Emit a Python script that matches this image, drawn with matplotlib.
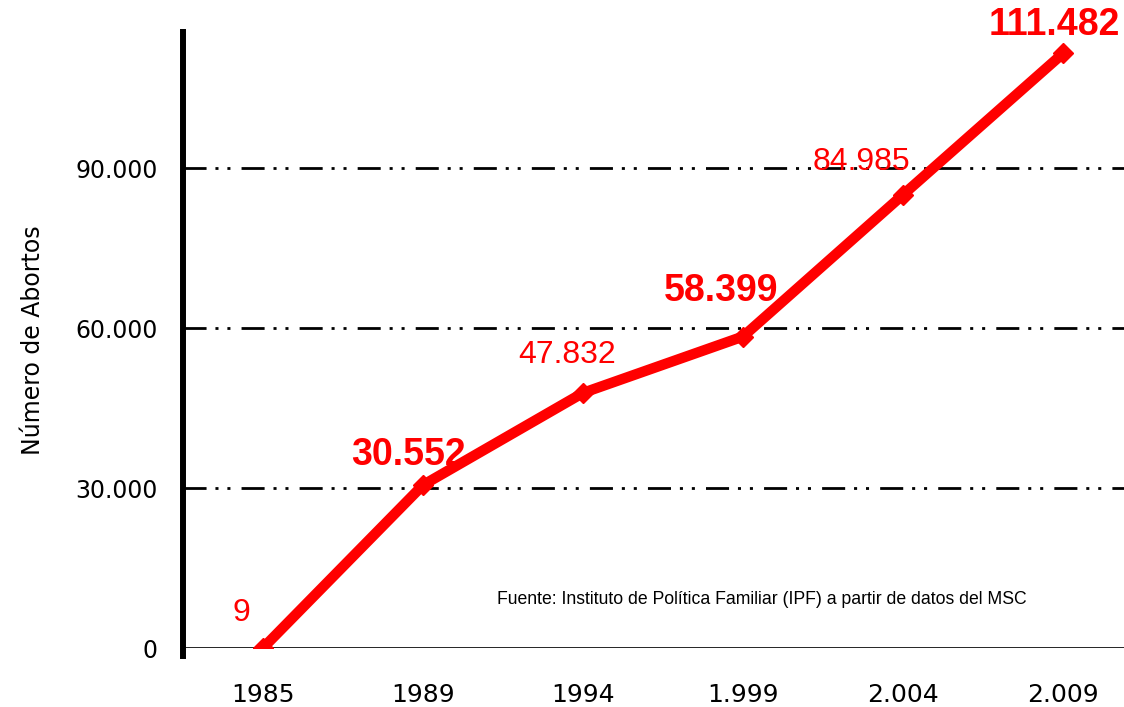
import matplotlib
matplotlib.use("Agg")
import matplotlib.pyplot as plt

# datos
anios = ["1985", "1989", "1994", "1.999", "2.004", "2.009"]
abortos = [9, 30552, 47832, 58399, 84985, 111482]
etiquetas = ["9", "30.552", "47.832", "58.399", "84.985", "111.482"]
negrita = [False, True, False, True, False, True]
desplaz = [(-22, 35), (-15, 30), (-16, 38), (-22, 46), (-42, 33), (-9, 28)]
yticks = [0, 30000, 60000, 90000]
ytick_labels = ["0", "30.000", "60.000", "90.000"]

fig = plt.figure(figsize=(11.24, 7.07), dpi=100)
ax = fig.add_axes([183 / 1124, 59 / 707, 960 / 1124, 616 / 707])

x = list(range(len(anios)))

# lineas de referencia (raya-punto-punto)
for v in yticks[1:]:
    ax.axhline(v, color="black", lw=2, ls=(0, (8.3, 3.2, 1.1, 3.2, 1.1, 4.0)), zorder=1)
ax.axhline(0, color="black", lw=1.2, zorder=1)

ax.plot(x, abortos, color="#ff0000", lw=7.5, marker="D", markersize=10,
        solid_capstyle="butt", zorder=3)

for xi, yi, txt, b, off in zip(x, abortos, etiquetas, negrita, desplaz):
    ax.annotate(txt, (xi, yi), xytext=off, textcoords="offset pixels",
                ha="center", va="center", color="#ff0000",
                fontsize=27 if b else 23, fontweight="bold" if b else "normal",
                family="Liberation Sans", zorder=4)

ax.set_xlim(-0.5, 5.5)
ax.set_ylim(0, 115500)
ax.set_xticks(x)
ax.set_xticklabels(anios, fontsize=18, family="DejaVu Sans")
ax.set_yticks(yticks)
ax.set_yticklabels(ytick_labels, fontsize=17, family="DejaVu Sans")
ax.tick_params(axis="y", length=0, pad=18)
ax.tick_params(axis="x", length=0, pad=25)

for s in ["top", "right", "bottom"]:
    ax.spines[s].set_visible(False)
ax.spines["left"].set_linewidth(4.3)
ax.spines["left"].set_bounds(-1500, 115500)

ax.set_ylabel("Número de Abortos", fontsize=17, family="DejaVu Sans", labelpad=22)

ax.text(497, 707 - 600, "Fuente: Instituto de Política Familiar (IPF) a partir de datos del MSC",
        transform=None, fontsize=12.7, family="Liberation Sans", va="center", ha="left")

fig.savefig("out.png", dpi=100)
